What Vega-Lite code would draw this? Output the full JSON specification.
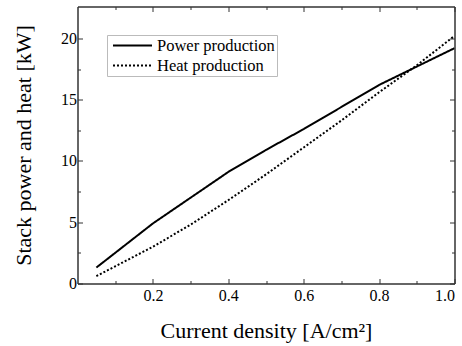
{
  "$schema": "https://vega.github.io/schema/vega-lite/v6.json",
  "width": 377,
  "height": 277,
  "autosize": "none",
  "padding": {"left": 77.5, "top": 6.5, "right": 7.5, "bottom": 62.5},
  "config": {
    "view": {"stroke": null},
    "font": "Liberation Serif",
    "axis": {
      "grid": false,
      "domainColor": "#333",
      "domainWidth": 1.5,
      "tickColor": "#333",
      "tickWidth": 1,
      "labelColor": "#000",
      "titleColor": "#000",
      "labelFont": "Liberation Serif",
      "titleFont": "Liberation Serif",
      "labelFontSize": 16,
      "titleFontSize": 22,
      "titleFontWeight": "normal"
    }
  },
  "data": {
    "values": [
      {"j": 0.05, "p": 1.3, "series": "Power production"},
      {"j": 0.1, "p": 2.5, "series": "Power production"},
      {"j": 0.2, "p": 4.9, "series": "Power production"},
      {"j": 0.3, "p": 7.0, "series": "Power production"},
      {"j": 0.4, "p": 9.1, "series": "Power production"},
      {"j": 0.5, "p": 10.9, "series": "Power production"},
      {"j": 0.6, "p": 12.6, "series": "Power production"},
      {"j": 0.7, "p": 14.4, "series": "Power production"},
      {"j": 0.8, "p": 16.2, "series": "Power production"},
      {"j": 0.82, "p": 16.5, "series": "Power production"},
      {"j": 0.9, "p": 17.7, "series": "Power production"},
      {"j": 1.0, "p": 19.2, "series": "Power production"},
      {"j": 0.05, "p": 0.6, "series": "Heat production"},
      {"j": 0.1, "p": 1.4, "series": "Heat production"},
      {"j": 0.2, "p": 3.0, "series": "Heat production"},
      {"j": 0.3, "p": 4.8, "series": "Heat production"},
      {"j": 0.4, "p": 6.8, "series": "Heat production"},
      {"j": 0.5, "p": 8.9, "series": "Heat production"},
      {"j": 0.6, "p": 11.1, "series": "Heat production"},
      {"j": 0.7, "p": 13.3, "series": "Heat production"},
      {"j": 0.8, "p": 15.6, "series": "Heat production"},
      {"j": 0.9, "p": 17.8, "series": "Heat production"},
      {"j": 1.0, "p": 20.2, "series": "Heat production"}
    ]
  },
  "layer": [
    {
      "mark": {"type": "line", "color": "#000", "strokeWidth": 2, "clip": true},
      "encoding": {
        "x": {
          "field": "j", "type": "quantitative",
          "scale": {"domain": [0, 1], "nice": false, "zero": false},
          "axis": {
            "orient": "bottom",
            "title": "Current density [A/cm²]",
            "values": [0.1, 0.2, 0.3, 0.4, 0.5, 0.6, 0.7, 0.8, 0.9, 1.0],
            "labelExpr": "round(datum.value*10) % 2 === 0 ? format(datum.value, '.1f') : ''",
            "tickSize": {"condition": {"test": "round(datum.value*10) % 2 === 0", "value": -5}, "value": -3},
            "labelPadding": 9,
            "titlePadding": 17
          }
        },
        "y": {
          "field": "p", "type": "quantitative",
          "scale": {"domain": [0, 22.6], "nice": false, "zero": false},
          "axis": {
            "orient": "left",
            "title": "Stack power and heat [kW]",
            "values": [0, 2.5, 5, 7.5, 10, 12.5, 15, 17.5, 20],
            "labelExpr": "datum.value % 5 === 0 ? format(datum.value, 'd') : ''",
            "tickSize": {"condition": {"test": "datum.value % 5 === 0", "value": -5}, "value": -3},
            "labelPadding": 6,
            "titlePadding": 25
          }
        },
        "strokeDash": {
          "field": "series", "type": "nominal",
          "scale": {"domain": ["Power production", "Heat production"], "range": [[1, 0], [2, 2]]},
          "legend": {
            "orient": "none",
            "legendX": 29.5,
            "legendY": 28.5,
            "title": null,
            "symbolType": "M-2.6,0H2.6",
            "symbolSize": 225,
            "symbolOffset": 15,
            "symbolStrokeWidth": 2,
            "symbolStrokeColor": "#000",
            "labelFont": "Liberation Serif",
            "labelFontSize": 16.5,
            "labelColor": "#000",
            "labelOffset": 16,
            "strokeColor": "#bbb",
            "fillColor": "#fff",
            "padding": 2,
            "rowPadding": 3
          }
        }
      }
    },
    {
      "mark": {"type": "line", "opacity": 0},
      "encoding": {
        "x": {
          "field": "j", "type": "quantitative",
          "axis": {
            "orient": "top", "title": null, "labels": false,
            "values": [0.1, 0.2, 0.3, 0.4, 0.5, 0.6, 0.7, 0.8, 0.9, 1.0],
            "tickSize": {"condition": {"test": "round(datum.value*10) % 2 === 0", "value": -5}, "value": -3}
          }
        },
        "y": {
          "field": "p", "type": "quantitative",
          "axis": {
            "orient": "right", "title": null, "labels": false,
            "values": [0, 2.5, 5, 7.5, 10, 12.5, 15, 17.5, 20],
            "tickSize": {"condition": {"test": "datum.value % 5 === 0", "value": -5}, "value": -3}
          }
        },
        "detail": {"field": "series"}
      }
    }
  ],
  "resolve": {"axis": {"x": "independent", "y": "independent"}}
}
